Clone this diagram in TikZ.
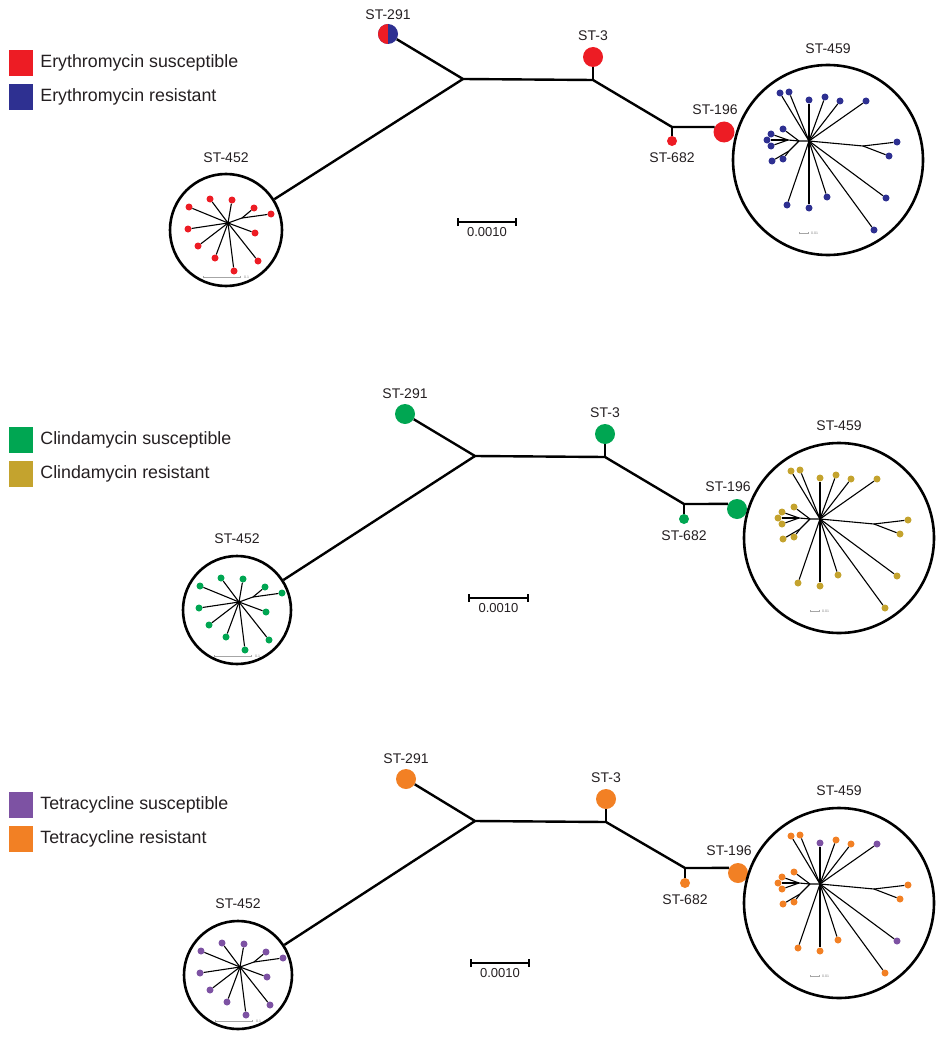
\documentclass[tikz,border=0pt]{standalone}
\usepackage{fontspec}
\setmainfont{Liberation Sans}
\usetikzlibrary{positioning,arrows.meta}
\definecolor{eryS}{rgb}{0.93, 0.11, 0.14}
\definecolor{eryR}{rgb}{0.18, 0.19, 0.57}
\definecolor{cliS}{rgb}{0.0, 0.65, 0.32}
\definecolor{cliR}{rgb}{0.77, 0.64, 0.18}
\definecolor{tetS}{rgb}{0.49, 0.32, 0.64}
\definecolor{tetR}{rgb}{0.95, 0.50, 0.14}
\definecolor{inkGray}{rgb}{0.14, 0.12, 0.13}

% leaves of ST-459, offsets from its hub: x/y/branch/colour slot
\newcommand{\leavesBig}{-29/-48/h/1, -20/-49/h/1, 0/-41/h/2, 16/-44/h/1, 31/-40/h/1,
  57/-40/h/2, 88/1/r/1, 80/15/r/1, 77/57/h/2, 65/89/h/1, 18/56/h/1, 0/67/h/1,
  -22/64/h/1, -37/20/b/1, -26/18/b/1, -26/-12/a/1, -38/-7/c/1, -42/-1/c/1, -38/5/c/1}
% leaves of ST-452, offsets from its hub: x/y/branch
\newcommand{\leavesSmall}{-39/-16/h, -18/-24/h, 4/-23/h, 26/-15/f, 43/-9/f, 27/10/h,
  30/38/h, 6/48/h, -13/35/h, -30/23/h, -40/6/h}

\begin{document}
\begin{tikzpicture}[x=1pt, y=-1pt,
    st/.style={circle, inner sep=0pt, minimum size=20pt},
    stsmall/.style={circle, inner sep=0pt, minimum size=10pt},
    ring/.style={circle, draw, line width=2.6pt, inner sep=0pt},
    leaf/.style={circle, inner sep=0pt, minimum size=7pt},
    branch/.style={line width=2.4pt},
    twig/.style={line width=1.1pt},
    stlabel/.style={font=\fontsize{14}{16}\selectfont, text=inkGray, inner sep=0pt},
    legbox/.style={minimum width=24pt, minimum height=26pt, inner sep=0pt},
    legtext/.style={font=\fontsize{17.8}{20}\selectfont, text=inkGray, inner sep=0pt},
    scalebar/.style={line width=2pt, {Bar[width=8pt]}-{Bar[width=8pt]}},
    scaletext/.style={font=\fontsize{13}{15}\selectfont, text=inkGray, inner sep=0pt},
    minibar/.style={gray!70, line width=0.6pt, {Bar[width=2.5pt]}-{Bar[width=2.5pt]}},
    minitext/.style={font=\fontsize{3.5}{4}\selectfont, text=gray, inner sep=0pt, anchor=west}]
\useasboundingbox (0,0) rectangle (937,1038);

% ---------------- Erythromycin ----------------
\node[legbox, fill=eryS] (keyEs) at (21,63) {};
\node[legbox, fill=eryR] (keyEr) at (21,97) {};
\node[legtext, right=7pt of keyEs] {Erythromycin susceptible};
\node[legtext, right=7pt of keyEr] {Erythromycin resistant};

\coordinate (j1a) at (463,79);
\coordinate (j2a) at (593,80);
\coordinate (j3a) at (672,127);
\node[st, fill=eryR, path picture={\fill[eryS] (path picture bounding box.south west) rectangle (path picture bounding box.north);}] (st291a) at (388,34) {};
\node[st, fill=eryS] (st3a) at (593,57) {};
\node[stsmall, fill=eryS] (st682a) at (672,141) {};
\node[st, fill=eryS, minimum size=21pt] (st196a) at (724,132) {};
\node[ring, minimum size=112pt] (c452a) at (226,230) {};
\node[ring, minimum size=190pt] (c459a) at (828,160) {};

\node[stlabel, above=4pt of st291a] {ST-291};
\node[stlabel, above=6pt of st3a] {ST-3};
\node[stlabel, below=6pt of st682a] {ST-682};
\node[stlabel, above=6pt of st196a, xshift=-9pt] {ST-196};
\node[stlabel, above=10pt of c452a] {ST-452};
\node[stlabel, above=10pt of c459a] {ST-459};

\draw[branch] (st291a) -- (j1a) -- (j2a) -- (j3a) -- (st196a.152);
\draw[branch] (j1a) -- (c452a);
\draw[branch] (j2a) -- (st3a);
\draw[branch] (j3a) -- (st682a);

\coordinate (sbLa) at (457,222);
\coordinate (sbRa) at (517,222);
\draw[scalebar] (sbLa) -- (sbRa) node[scaletext, midway, below=4pt] (sba) {0.0010};

% ST-452 cluster
\coordinate (hSa) at (228,223);
\begin{scope}[shift={(hSa)}]
  \coordinate (hSa-h) at (0,0);
  \coordinate (hSa-f) at (14,-5);
  \draw[twig] (hSa-h) -- (hSa-f);
  \foreach \x/\y/\br [count=\i] in \leavesSmall {
    \node[leaf, fill=eryS] (lSa-\i) at (\x,\y) {};
    \draw[twig] (hSa-\br) -- (lSa-\i);
  }
  \draw[minibar] (-25,54) coordinate (mSa-l) -- (13,54) coordinate (mSa-r);
  \node[minitext] (mSa) at (16,54) {0.1};
\end{scope}

% ST-459 cluster
\colorlet{big1}{eryR}\colorlet{big2}{eryR}
\coordinate (hBa) at (809,141);
\begin{scope}[shift={(hBa)}]
  \coordinate (hBa-h) at (0,0);
  \coordinate (hBa-a) at (-10,0);
  \coordinate (hBa-b) at (-20,10);
  \coordinate (hBa-c) at (-21,-1);
  \coordinate (hBa-r) at (54,5);
  \draw[twig] (hBa-h) -- (hBa-a) -- (hBa-c) (hBa-a) -- (hBa-b) (hBa-h) -- (hBa-r);
  \foreach \x/\y/\br/\col [count=\i] in \leavesBig {
    \node[leaf, fill=big\col] (lBa-\i) at (\x,\y) {};
    \draw[twig] (hBa-\br) -- (lBa-\i);
  }
  \draw[minibar] (-10,92) coordinate (mBa-l) -- (0,92) coordinate (mBa-r);
  \node[minitext] (mBa) at (2,92) {0.01};
\end{scope}

% ---------------- Clindamycin ----------------
\node[legbox, fill=cliS] (keyCs) at (21,440) {};
\node[legbox, fill=cliR] (keyCr) at (21,474) {};
\node[legtext, right=7pt of keyCs] {Clindamycin susceptible};
\node[legtext, right=7pt of keyCr] {Clindamycin resistant};

\coordinate (j1b) at (475,456);
\coordinate (j2b) at (605,457);
\coordinate (j3b) at (684,504);
\node[st, fill=cliS] (st291b) at (405,414) {};
\node[st, fill=cliS] (st3b) at (605,434) {};
\node[stsmall, fill=cliS] (st682b) at (684,519) {};
\node[st, fill=cliS] (st196b) at (737,509) {};
\node[ring, minimum size=108pt] (c452b) at (237,610) {};
\node[ring, minimum size=190pt] (c459b) at (839,538) {};

\node[stlabel, above=5pt of st291b] {ST-291};
\node[stlabel, above=6pt of st3b] {ST-3};
\node[stlabel, below=6pt of st682b] {ST-682};
\node[stlabel, above=7pt of st196b, xshift=-9pt] {ST-196};
\node[stlabel, above=11pt of c452b] {ST-452};
\node[stlabel, above=11pt of c459b] {ST-459};

\draw[branch] (st291b) -- (j1b) -- (j2b) -- (j3b) -- (st196b.150);
\draw[branch] (j1b) -- (c452b);
\draw[branch] (j2b) -- (st3b);
\draw[branch] (j3b) -- (st682b);

\coordinate (sbLb) at (468,598);
\coordinate (sbRb) at (529,598);
\draw[scalebar] (sbLb) -- (sbRb) node[scaletext, midway, below=4pt] (sbb) {0.0010};

% ST-452 cluster
\coordinate (hSb) at (239,602);
\begin{scope}[shift={(hSb)}]
  \coordinate (hSb-h) at (0,0);
  \coordinate (hSb-f) at (14,-5);
  \draw[twig] (hSb-h) -- (hSb-f);
  \foreach \x/\y/\br [count=\i] in \leavesSmall {
    \node[leaf, fill=cliS] (lSb-\i) at (\x,\y) {};
    \draw[twig] (hSb-\br) -- (lSb-\i);
  }
  \draw[minibar] (-25,54) coordinate (mSb-l) -- (13,54) coordinate (mSb-r);
  \node[minitext] (mSb) at (16,54) {0.1};
\end{scope}

% ST-459 cluster
\colorlet{big1}{cliR}\colorlet{big2}{cliR}
\coordinate (hBb) at (820,519);
\begin{scope}[shift={(hBb)}]
  \coordinate (hBb-h) at (0,0);
  \coordinate (hBb-a) at (-10,0);
  \coordinate (hBb-b) at (-20,10);
  \coordinate (hBb-c) at (-21,-1);
  \coordinate (hBb-r) at (54,5);
  \draw[twig] (hBb-h) -- (hBb-a) -- (hBb-c) (hBb-a) -- (hBb-b) (hBb-h) -- (hBb-r);
  \foreach \x/\y/\br/\col [count=\i] in \leavesBig {
    \node[leaf, fill=big\col] (lBb-\i) at (\x,\y) {};
    \draw[twig] (hBb-\br) -- (lBb-\i);
  }
  \draw[minibar] (-10,92) coordinate (mBb-l) -- (0,92) coordinate (mBb-r);
  \node[minitext] (mBb) at (2,92) {0.01};
\end{scope}

% ---------------- Tetracycline ----------------
\node[legbox, fill=tetS] (keyTs) at (21,805) {};
\node[legbox, fill=tetR] (keyTr) at (21,839) {};
\node[legtext, right=7pt of keyTs] {Tetracycline susceptible};
\node[legtext, right=7pt of keyTr] {Tetracycline resistant};

\coordinate (j1c) at (475,821);
\coordinate (j2c) at (606,822);
\coordinate (j3c) at (685,868);
\node[st, fill=tetR] (st291c) at (406,779) {};
\node[st, fill=tetR] (st3c) at (606,799) {};
\node[stsmall, fill=tetR] (st682c) at (685,883) {};
\node[st, fill=tetR] (st196c) at (738,873) {};
\node[ring, minimum size=108pt] (c452c) at (238,975) {};
\node[ring, minimum size=190pt] (c459c) at (839,903) {};

\node[stlabel, above=5pt of st291c] {ST-291};
\node[stlabel, above=6pt of st3c] {ST-3};
\node[stlabel, below=6pt of st682c] {ST-682};
\node[stlabel, above=7pt of st196c, xshift=-9pt] {ST-196};
\node[stlabel, above=11pt of c452c] {ST-452};
\node[stlabel, above=11pt of c459c] {ST-459};

\draw[branch] (st291c) -- (j1c) -- (j2c) -- (j3c) -- (st196c.150);
\draw[branch] (j1c) -- (c452c);
\draw[branch] (j2c) -- (st3c);
\draw[branch] (j3c) -- (st682c);

\coordinate (sbLc) at (470,963);
\coordinate (sbRc) at (530,963);
\draw[scalebar] (sbLc) -- (sbRc) node[scaletext, midway, below=4pt] (sbc) {0.0010};

% ST-452 cluster
\coordinate (hSc) at (240,967);
\begin{scope}[shift={(hSc)}]
  \coordinate (hSc-h) at (0,0);
  \coordinate (hSc-f) at (14,-5);
  \draw[twig] (hSc-h) -- (hSc-f);
  \foreach \x/\y/\br [count=\i] in \leavesSmall {
    \node[leaf, fill=tetS] (lSc-\i) at (\x,\y) {};
    \draw[twig] (hSc-\br) -- (lSc-\i);
  }
  \draw[minibar] (-25,54) coordinate (mSc-l) -- (13,54) coordinate (mSc-r);
  \node[minitext] (mSc) at (16,54) {0.1};
\end{scope}

% ST-459 cluster, three susceptible isolates
\colorlet{big1}{tetR}\colorlet{big2}{tetS}
\coordinate (hBc) at (820,884);
\begin{scope}[shift={(hBc)}]
  \coordinate (hBc-h) at (0,0);
  \coordinate (hBc-a) at (-10,0);
  \coordinate (hBc-b) at (-20,10);
  \coordinate (hBc-c) at (-21,-1);
  \coordinate (hBc-r) at (54,5);
  \draw[twig] (hBc-h) -- (hBc-a) -- (hBc-c) (hBc-a) -- (hBc-b) (hBc-h) -- (hBc-r);
  \foreach \x/\y/\br/\col [count=\i] in \leavesBig {
    \node[leaf, fill=big\col] (lBc-\i) at (\x,\y) {};
    \draw[twig] (hBc-\br) -- (lBc-\i);
  }
  \draw[minibar] (-10,92) coordinate (mBc-l) -- (0,92) coordinate (mBc-r);
  \node[minitext] (mBc) at (2,92) {0.01};
\end{scope}
\end{tikzpicture}
\end{document}
